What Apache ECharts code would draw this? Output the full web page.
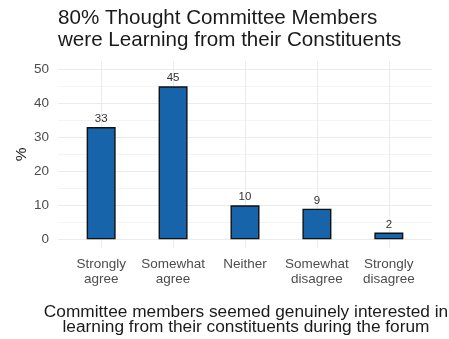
<!DOCTYPE html>
<html>
<head>
<meta charset="utf-8">
<script src="https://cdn.jsdelivr.net/npm/echarts@6/dist/echarts.min.js"></script>
<style>
  html, body { margin: 0; padding: 0; background: #ffffff; }
  #chart { width: 449px; height: 339px; }
</style>
</head>
<body>
<div id="chart"></div>
<script>
// Response categories (two-line labels) and percentages
const categories = ['Strongly\nagree', 'Somewhat\nagree', 'Neither', 'Somewhat\ndisagree', 'Strongly\ndisagree'];
const percents = [33, 45, 10, 9, 2];
const yTicks = [0, 10, 20, 30, 40, 50];

const titleText = '80% Thought Committee Members\nwere Learning from their Constituents';
const captionText = 'Committee members seemed genuinely interested in\nlearning from their constituents during the forum';

const FONT = '"Liberation Sans", Arial, Helvetica, sans-serif';
const GRID = '#ebebeb';
const GRID_MINOR = '#f4f4f4';
const NONE = 'rgba(0,0,0,0)';

// Bars sit at positions 1..5 on a numeric axis padded by 0.6 on each side
const barData = percents.map((v, i) => [i + 1, v]);

const nearInt = v => Math.abs(v - Math.round(v)) < 1e-6;

// x ticks every 0.2 from 0.4: only whole positions (every 5th, from index 3) get a line
const xLineColors = [NONE, NONE, NONE, GRID, NONE];
// y ticks every 2.5 from -2.5: tens get a major line, odd fives a minor one
const yLineColors = [NONE, GRID, NONE, GRID_MINOR];

const chart = echarts.init(document.getElementById('chart'), null, { renderer: 'canvas' });

chart.setOption({
  animation: false,
  backgroundColor: '#ffffff',
  title: [{
    text: titleText,
    left: 58,
    top: 8,
    padding: 0,
    textStyle: { fontFamily: FONT, fontSize: 20.6, fontWeight: 'normal', color: '#1a1a1a', lineHeight: 21.5 }
  }, {
    text: captionText,
    left: 246,
    textAlign: 'center',
    top: 305,
    padding: 0,
    textStyle: { fontFamily: FONT, fontSize: 17.3, fontWeight: 'normal', color: '#1a1a1a', lineHeight: 15 }
  }],
  grid: { left: 58, right: 17, top: 60.8, bottom: 91.2, containLabel: false },
  xAxis: {
    type: 'value',
    min: 0.4,
    max: 5.6,
    interval: 0.2,
    axisLine: { show: false },
    axisTick: { show: false },
    axisLabel: {
      margin: 9.5,
      fontFamily: FONT,
      fontSize: 13.5,
      color: '#4d4d4d',
      lineHeight: 14.5,
      formatter: v => (nearInt(v) ? categories[Math.round(v) - 1] || '' : '')
    },
    splitLine: { show: true, lineStyle: { color: xLineColors, width: 1 } }
  },
  yAxis: {
    type: 'value',
    min: -2.5,
    max: 52.5,
    interval: 2.5,
    name: '%',
    nameLocation: 'middle',
    nameGap: 28,
    nameMoveOverlap: false,
    nameRotate: 90,
    nameTextStyle: { fontFamily: FONT, fontSize: 15.5, color: '#1a1a1a' },
    axisLine: { show: false },
    axisTick: { show: false },
    axisLabel: {
      margin: 9,
      fontFamily: FONT,
      fontSize: 13.5,
      color: '#4d4d4d',
      formatter: v => (nearInt(v) && yTicks.indexOf(Math.round(v)) >= 0 ? String(Math.round(v)) : '')
    },
    splitLine: { show: true, lineStyle: { color: yLineColors, width: 1 } }
  },
  series: [{
    type: 'bar',
    data: barData,
    barWidth: 29,
    itemStyle: { color: '#1764ab', borderColor: '#111111', borderWidth: 1.4 },
    label: {
      show: true,
      position: 'top',
      distance: 2,
      fontFamily: FONT,
      fontSize: 11.5,
      color: '#333333',
      formatter: p => String(p.value[1])
    }
  }]
});
</script>
</body>
</html>
